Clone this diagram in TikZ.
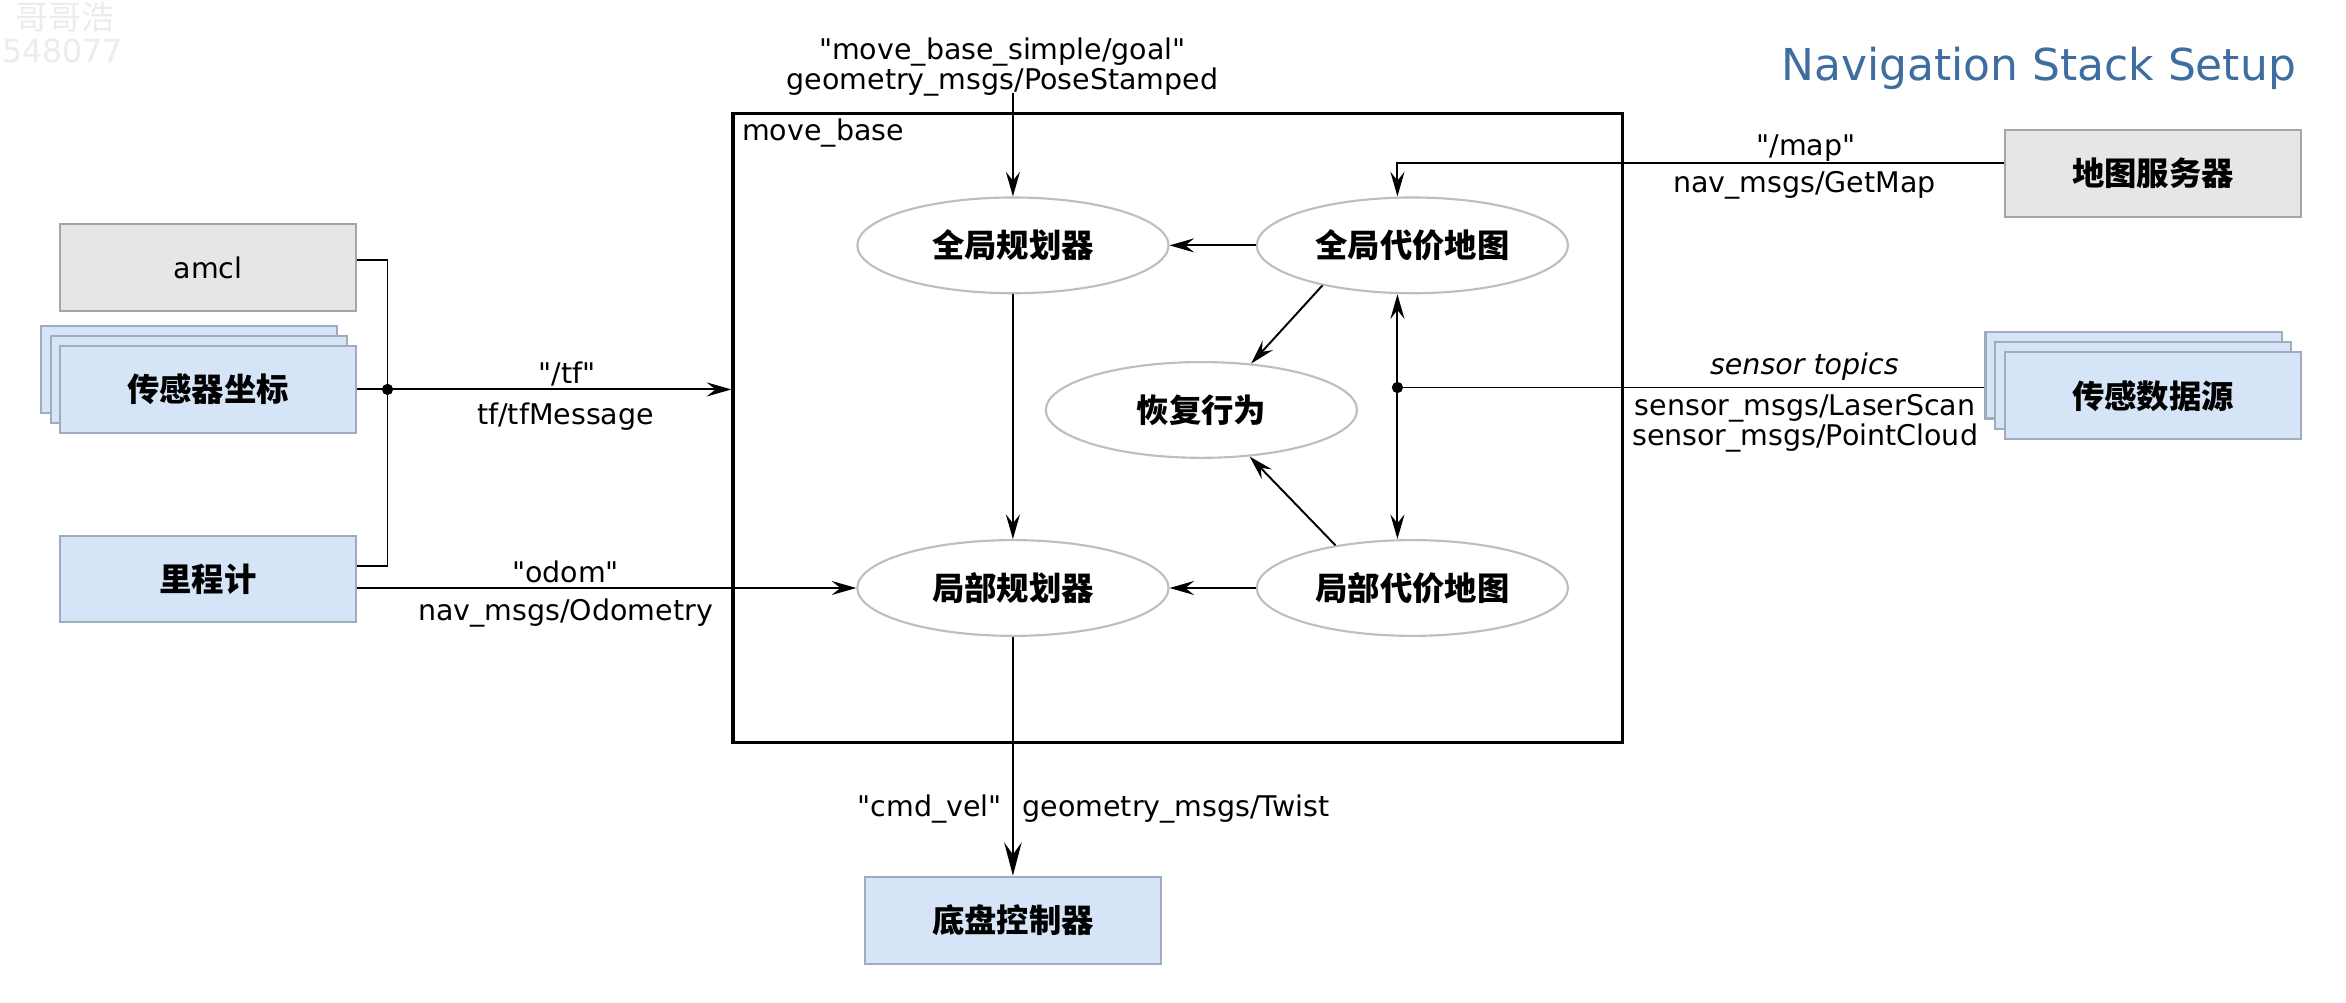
\documentclass[tikz,border=0pt]{standalone}
\usepackage{fontspec}
\setmainfont{DejaVu Sans}[Ligatures=TeXOff]
\newfontfamily\cjk{Noto Sans CJK SC}
\usetikzlibrary{arrows.meta,shapes.geometric,calc}
\definecolor{gfill}{RGB}{230,230,230}
\definecolor{gline}{RGB}{165,165,165}
\definecolor{bfill}{RGB}{213,229,247}
\definecolor{bline}{RGB}{160,172,190}
\definecolor{eline}{RGB}{190,190,190}
\definecolor{titleblue}{RGB}{62,110,160}
\definecolor{wmark}{RGB}{236,236,236}
\newcommand\lblfont{\fontsize{8.1}{10}\selectfont}
\newcommand\cnfont{\cjk\bfseries\fontsize{9.2}{11}\selectfont}
\tikzset{
  lbl/.style={font=\lblfont, inner sep=0pt},
  gbox/.style={rectangle, draw=gline, fill=gfill, line width=0.6pt, minimum width=2.96cm, minimum height=0.868cm, font=\cnfont, inner sep=0pt},
  bbox/.style={gbox, draw=bline, fill=bfill},
  ell/.style={ellipse, draw=eline, fill=white, line width=0.6pt, minimum width=3.11cm, minimum height=0.957cm, inner sep=0pt, font=\cnfont},
  conn/.style={line width=0.55pt},
  arr/.style={conn, -{Stealth[length=7pt,width=4pt,inset=2.5pt]}},
  dblarr/.style={conn, {Stealth[length=7pt,width=4pt,inset=2.5pt]}-{Stealth[length=7pt,width=4pt,inset=2.5pt]}},
  bigarr/.style={conn, -{Stealth[length=9.5pt,width=5pt,inset=3.5pt]}},
  mbox/.style={rectangle, draw=black, line width=0.9pt, minimum width=8.894cm, minimum height=6.283cm, inner sep=0pt},
  jdot/.style={circle, fill=black, inner sep=0pt, minimum size=3.2pt},
}
\begin{document}
\begin{tikzpicture}[x=0.01496cm,y=-0.01496cm]
\fill[white] (0,0) rectangle (1568,670);
\useasboundingbox (0,0) rectangle (1568,670);

% watermark
\node[anchor=base west, inner sep=0pt, text=wmark, font=\cjk\fontsize{9.4}{11}\selectfont] (wm1) at (10,20) {哥哥浩};
\node[anchor=base west, inner sep=0pt, text=wmark, font=\fontsize{9}{11}\selectfont] (wm2) at (1,42) {548077};

% title
\node[anchor=base east, inner sep=0pt, text=titleblue, font=\fontsize{12.5}{15}\selectfont] (title) at (1535,53.5) {Navigation Stack Setup};

% move_base container
\node[mbox] (mb) at (787.25,286) {};
\node[lbl, anchor=base west] (mbl) at (495.6,93.8) {move\_base};

% ellipses
\node[ell] (gp) at (677,164) {全局规划器};
\node[ell] (gc) at (944,164) {全局代价地图};
\node[ell] (rb) at (803,274) {恢复行为};
\node[ell] (lp) at (677,393) {局部规划器};
\node[ell] (lc) at (944,393) {局部代价地图};

% left boxes
\node[gbox, font=\lblfont] (amcl) at (139,179) {amcl};
\node[bbox] (sfb) at (126.5,247) {};
\node[bbox] (sfm) at (132.8,253.7) {};
\node[bbox] (sf) at (139,260.3) {传感器坐标};
\node[bbox] (odom) at (139,387) {里程计};

% right boxes
\node[gbox] (ms) at (1439,116) {地图服务器};
\node[bbox] (sdb) at (1426,250.7) {};
\node[bbox] (sdm) at (1432.5,257.6) {};
\node[bbox] (sd) at (1439,264.5) {传感数据源};

% bottom box
\node[bbox] (bc) at (677,615) {底盘控制器};

% goal
\node[lbl, anchor=base] (goal1) at (670,40) {"move\_base\_simple/goal"};
\node[lbl, anchor=base] (goal2) at (670,59.5) {geometry\_msgs/PoseStamped};
\coordinate (goalout) at (677,62);
\draw[arr] (goalout) -- (gp.north);

% internal arrows
\draw[arr] (gc) -- (gp);
\draw[arr] (lc) -- (lp);
\draw[arr] (gp) -- (lp);
\draw[arr] (gc.204) -- (rb.43);
\draw[arr] (lc.151) -- (rb.316);

% sensor junction
\coordinate (sj) at (934,259);
\draw[dblarr] (sj |- gc.south) -- (sj |- lc.north);
\draw[conn] (sdb.west |- sj) -- (sj);
\node[jdot] (sjd) at (sj) {};
\node[lbl, anchor=base, font=\lblfont\itshape] (st1) at (1206,250.5) {sensor topics};
\node[lbl, anchor=base] (st2) at (1206.5,278) {sensor\_msgs/LaserScan};
\node[lbl, anchor=base] (st3) at (1206.5,298) {sensor\_msgs/PointCloud};

% map
\draw[arr] ($(ms.west)+(0,-7)$) -| (sj |- gc.north);
\node[lbl, anchor=base] (map1) at (1207,104) {"/map"};
\node[lbl, anchor=base] (map2) at (1206,129) {nav\_msgs/GetMap};

% tf
\coordinate (tfj) at (259,260.3);
\coordinate (odomj) at ($(odom.east)+(0,-9)$);
\draw[conn] ($(amcl.east)+(0,-5)$) -| (odomj -| tfj) -- (odomj);
\draw[conn] (sf.east) -- (tfj);
\draw[arr] (tfj) -- (tfj -| mb.west);
\node[jdot] (tfd) at (tfj) {};
\node[lbl, anchor=base] (tf1) at (379,256) {"/tf"};
\node[lbl, anchor=base] (tf2) at (378,283.5) {tf/tfMessage};

% odom
\draw[arr] (odom.east |- lp.west) -- (lp.west);
\node[lbl, anchor=base] (od1) at (378,389) {"odom"};
\node[lbl, anchor=base] (od2) at (378,414.5) {nav\_msgs/Odometry};

% cmd_vel
\draw[bigarr] (lp.south) -- (bc.north);
\node[lbl, anchor=base east] (cv1) at (670,546) {"cmd\_vel"};
\node[lbl, anchor=base west] (cv2) at (683,546) {geometry\_msgs/Twist};
\end{tikzpicture}
\end{document}
